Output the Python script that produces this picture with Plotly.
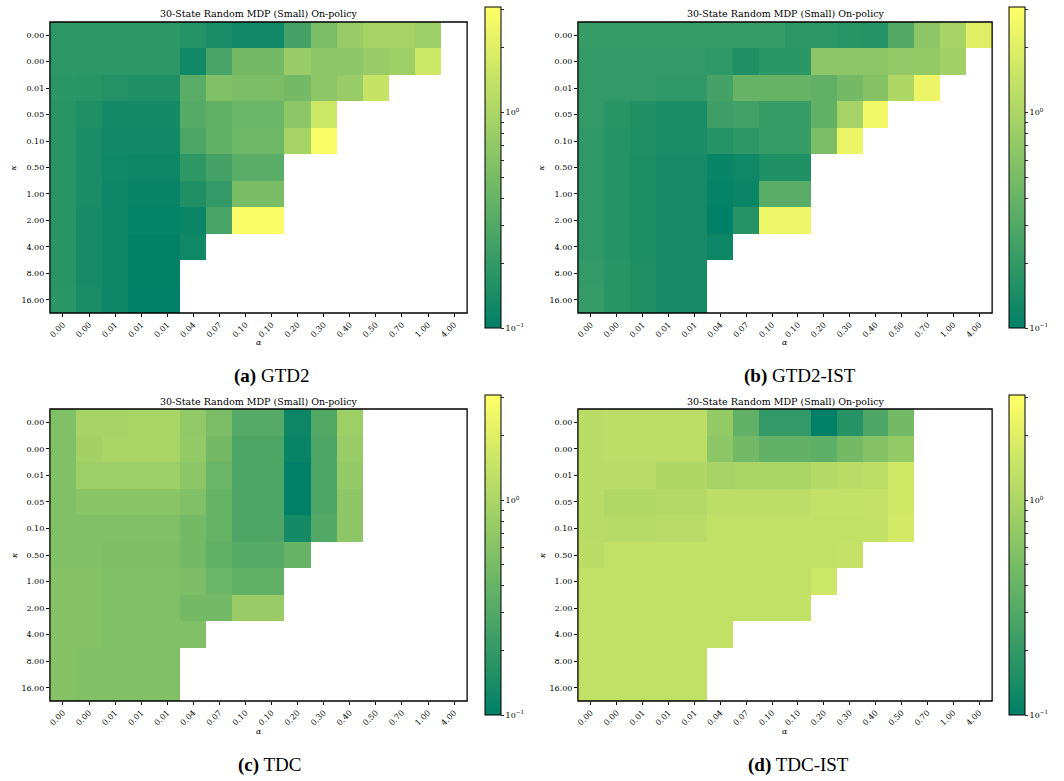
import numpy as np
import plotly.graph_objects as go

N = None

alpha_labels = ["0.00", "0.00", "0.01", "0.01", "0.01", "0.04", "0.07", "0.10",
                "0.10", "0.20", "0.30", "0.40", "0.50", "0.70", "1.00", "4.00"]
kappa_labels = ["0.00", "0.00", "0.01", "0.05", "0.10", "0.50", "1.00", "2.00",
                "4.00", "8.00", "16.00"]

# Error per (kappa row, alpha column); None = run diverged / not reported
gtd2 = [
    [0.186, 0.186, 0.186, 0.186, 0.186, 0.167, 0.141, 0.127, 0.127, 0.253, 0.520, 0.787, 0.935, 0.935, 0.843, N],
    [0.186, 0.186, 0.186, 0.186, 0.186, 0.127, 0.261, 0.469, 0.469, 0.787, 0.662, 0.662, 0.787, 0.843, 1.56, N],
    [0.179, 0.173, 0.162, 0.151, 0.151, 0.333, 0.557, 0.520, 0.520, 0.469, 0.662, 0.787, 1.46, N, N, N],
    [0.173, 0.151, 0.132, 0.132, 0.132, 0.310, 0.368, 0.423, 0.423, 0.662, 1.56, N, N, N, N, N],
    [0.173, 0.141, 0.127, 0.127, 0.127, 0.280, 0.368, 0.438, 0.438, 0.935, 2.89, N, N, N, N, N],
    [0.173, 0.141, 0.123, 0.119, 0.119, 0.186, 0.253, 0.333, 0.333, N, N, N, N, N, N, N],
    [0.173, 0.141, 0.119, 0.111, 0.111, 0.151, 0.199, 0.503, 0.503, N, N, N, N, N, N, N],
    [0.173, 0.136, 0.119, 0.107, 0.107, 0.115, 0.261, 2.89, 2.89, N, N, N, N, N, N, N],
    [0.173, 0.136, 0.119, 0.103, 0.103, 0.123, N, N, N, N, N, N, N, N, N, N],
    [0.173, 0.136, 0.119, 0.103, 0.103, N, N, N, N, N, N, N, N, N, N, N],
    [0.179, 0.141, 0.119, 0.100, 0.100, N, N, N, N, N, N, N, N, N, N, N],
]

gtd2_ist = [
    [0.213, 0.213, 0.213, 0.213, 0.213, 0.213, 0.213, 0.213, 0.186, 0.186, 0.173, 0.167, 0.300, 0.662, 0.935, 1.98],
    [0.199, 0.199, 0.199, 0.199, 0.199, 0.192, 0.151, 0.179, 0.179, 0.662, 0.662, 0.662, 0.709, 0.734, 0.873, N],
    [0.199, 0.199, 0.199, 0.192, 0.192, 0.253, 0.395, 0.395, 0.395, 0.368, 0.469, 0.597, 1.04, 2.35, N, N],
    [0.199, 0.173, 0.156, 0.141, 0.141, 0.228, 0.244, 0.213, 0.213, 0.368, 0.935, 2.61, N, N, N, N],
    [0.192, 0.167, 0.151, 0.141, 0.141, 0.167, 0.186, 0.213, 0.213, 0.520, 2.35, N, N, N, N, N],
    [0.192, 0.167, 0.146, 0.136, 0.136, 0.111, 0.123, 0.151, 0.151, N, N, N, N, N, N, N],
    [0.192, 0.167, 0.146, 0.136, 0.136, 0.107, 0.115, 0.333, 0.333, N, N, N, N, N, N, N],
    [0.192, 0.167, 0.146, 0.136, 0.136, 0.100, 0.167, 2.43, 2.43, N, N, N, N, N, N, N],
    [0.192, 0.167, 0.146, 0.136, 0.136, 0.119, N, N, N, N, N, N, N, N, N, N],
    [0.199, 0.173, 0.151, 0.136, 0.136, N, N, N, N, N, N, N, N, N, N, N],
    [0.206, 0.173, 0.151, 0.136, 0.136, N, N, N, N, N, N, N, N, N, N, N],
]

tdc = [
    [0.557, 0.935, 0.935, 0.968, 0.968, 0.709, 0.520, 0.310, 0.310, 0.119, 0.300, 0.843, N, N, N, N],
    [0.557, 0.903, 0.968, 0.968, 0.968, 0.734, 0.469, 0.280, 0.280, 0.111, 0.280, 0.787, N, N, N, N],
    [0.557, 0.843, 0.843, 0.843, 0.843, 0.662, 0.423, 0.280, 0.280, 0.100, 0.280, 0.734, N, N, N, N],
    [0.557, 0.640, 0.640, 0.640, 0.640, 0.557, 0.395, 0.280, 0.280, 0.100, 0.280, 0.662, N, N, N, N],
    [0.557, 0.557, 0.557, 0.557, 0.557, 0.469, 0.395, 0.280, 0.280, 0.132, 0.300, 0.662, N, N, N, N],
    [0.557, 0.557, 0.538, 0.538, 0.538, 0.469, 0.368, 0.310, 0.310, 0.395, N, N, N, N, N, N],
    [0.597, 0.597, 0.557, 0.557, 0.557, 0.520, 0.423, 0.368, 0.368, N, N, N, N, N, N, N],
    [0.597, 0.597, 0.557, 0.557, 0.557, 0.469, 0.469, 0.787, 0.787, N, N, N, N, N, N, N],
    [0.597, 0.597, 0.557, 0.557, 0.557, 0.557, N, N, N, N, N, N, N, N, N, N],
    [0.597, 0.557, 0.557, 0.557, 0.557, N, N, N, N, N, N, N, N, N, N, N],
    [0.597, 0.557, 0.557, 0.557, 0.557, N, N, N, N, N, N, N, N, N, N, N],
]

tdc_ist = [
    [1.19, 1.27, 1.27, 1.27, 1.27, 0.734, 0.368, 0.199, 0.199, 0.100, 0.167, 0.280, 0.469, N, N, N],
    [1.19, 1.27, 1.27, 1.27, 1.27, 0.662, 0.469, 0.368, 0.368, 0.356, 0.469, 0.597, 0.734, N, N, N],
    [1.19, 1.19, 1.19, 1.04, 1.04, 0.935, 0.968, 0.968, 0.968, 1.11, 1.19, 1.27, 1.67, N, N, N],
    [1.19, 1.07, 1.07, 1.11, 1.11, 1.27, 1.27, 1.27, 1.27, 1.36, 1.36, 1.41, 1.67, N, N, N],
    [1.19, 1.15, 1.15, 1.19, 1.19, 1.32, 1.32, 1.32, 1.32, 1.32, 1.32, 1.36, 1.73, N, N, N],
    [1.23, 1.32, 1.32, 1.32, 1.32, 1.32, 1.32, 1.32, 1.32, 1.32, 1.41, N, N, N, N, N],
    [1.32, 1.32, 1.32, 1.32, 1.32, 1.32, 1.32, 1.32, 1.32, 1.56, N, N, N, N, N, N],
    [1.32, 1.32, 1.32, 1.32, 1.32, 1.32, 1.32, 1.32, 1.32, N, N, N, N, N, N, N],
    [1.32, 1.32, 1.32, 1.32, 1.32, 1.32, N, N, N, N, N, N, N, N, N, N],
    [1.32, 1.32, 1.32, 1.32, 1.32, N, N, N, N, N, N, N, N, N, N, N],
    [1.32, 1.32, 1.32, 1.32, 1.32, N, N, N, N, N, N, N, N, N, N, N],
]

panels = [
    ("a", "GTD2", gtd2),
    ("b", "GTD2-IST", gtd2_ist),
    ("c", "TDC", tdc),
    ("d", "TDC-IST", tdc_ist),
]

W, H = 1064, 781
VMIN, VMAX = 0.1, 3.09
TITLE = "30-State Random MDP (Small) On-policy"
SERIF = "DejaVu Serif"

# matplotlib "summer" colormap
summer = [[0.0, "rgb(0,128,102)"], [1.0, "rgb(255,255,102)"]]

cb_vals = [0.1, 0.2, 0.3, 0.4, 0.5, 0.6, 0.7, 0.8, 0.9, 1.0, 2.0, 3.0]
cb_text = ["10<sup>\u22121</sup>"] + [""] * 8 + ["10<sup>0</sup>", "", ""]


def px_x(x):
    return x / W


def px_y(y):
    return 1 - y / H


# pixel boxes: (plot left, plot right, plot top, plot bottom, colorbar left, colorbar top, colorbar bottom)
boxes = [
    (48, 466, 22, 313, 484, 7, 328),
    (577, 992, 22, 313, 1009, 7, 328),
    (48, 466, 409, 701, 484, 395, 715),
    (577, 992, 409, 701, 1009, 395, 715),
]
caption_x = [270, 800, 269, 798]

fig = go.Figure()
annotations = []
shapes = []

for i, ((tag, name, data), box) in enumerate(zip(panels, boxes)):
    x0, x1, y0, y1, cbx, cbt, cbb = box
    z = np.log10(np.array(data, dtype=float))
    ax = "" if i == 0 else str(i + 1)
    fig.add_trace(go.Heatmap(
        z=z,
        x=list(range(len(alpha_labels))),
        y=list(range(len(kappa_labels))),
        colorscale=summer,
        zmin=np.log10(VMIN), zmax=np.log10(VMAX),
        xaxis="x" + ax, yaxis="y" + ax,
        hoverongaps=False,
        colorbar=dict(
            x=px_x(cbx), xanchor="left",
            y=px_y(cbt), yanchor="top",
            len=(cbb - cbt) / H, lenmode="fraction",
            thickness=16, thicknessmode="pixels",
            xpad=0, ypad=0,
            outlinewidth=1, outlinecolor="black",
            tickmode="array",
            tickvals=list(np.log10(cb_vals)),
            ticktext=cb_text,
            ticks="outside", ticklen=3, tickwidth=1, tickcolor="#333",
            tickfont=dict(family=SERIF, size=8, color="black"),
        ),
    ))
    fig.layout["xaxis" + ax] = dict(
        domain=[px_x(x0), px_x(x1)],
        anchor="y" + ax,
        range=[-0.5, len(alpha_labels) - 0.5],
        tickmode="array",
        tickvals=list(range(len(alpha_labels))),
        ticktext=alpha_labels,
        tickangle=-45,
        ticks="outside", ticklen=3, tickcolor="black",
        tickfont=dict(family=SERIF, size=8, color="black"),
        showline=False,
        showgrid=False, zeroline=False,
    )
    fig.layout["yaxis" + ax] = dict(
        domain=[px_y(y1), px_y(y0)],
        anchor="x" + ax,
        range=[len(kappa_labels) - 0.5, -0.5],
        tickmode="array",
        tickvals=list(range(len(kappa_labels))),
        ticktext=kappa_labels,
        ticks="outside", ticklen=3, tickcolor="black",
        tickfont=dict(family=SERIF, size=8, color="black"),
        showline=False,
        showgrid=False, zeroline=False,
    )
    # axes frame
    shapes.append(dict(
        type="rect", xref="paper", yref="paper",
        x0=px_x(x0), x1=px_x(x1), y0=px_y(y1), y1=px_y(y0),
        line=dict(color="black", width=1.3),
        fillcolor="rgba(0,0,0,0)", layer="above",
    ))
    cx = (x0 + x1) / 2
    annotations.append(dict(
        text=TITLE, x=px_x(cx), y=px_y(y0 - 8), xref="paper", yref="paper",
        showarrow=False, xanchor="center", yanchor="middle",
        font=dict(family=SERIF, size=9.5, color="black"),
    ))
    annotations.append(dict(
        text="<i>\u03b1</i>", x=px_x(cx), y=px_y(y1 + 30), xref="paper", yref="paper",
        showarrow=False, xanchor="center", yanchor="middle",
        font=dict(family=SERIF, size=8, color="black"),
    ))
    annotations.append(dict(
        text="<i>\u03ba</i>", x=px_x(x0 - 36), y=px_y((y0 + y1) / 2), xref="paper", yref="paper",
        showarrow=False, xanchor="center", yanchor="middle", textangle=-90,
        font=dict(family=SERIF, size=8, color="black"),
    ))
    annotations.append(dict(
        text="<b>(" + tag + ")</b> " + name, x=px_x(caption_x[i]), y=px_y(y1 + 63 if i < 2 else y1 + 64),
        xref="paper", yref="paper",
        showarrow=False, xanchor="center", yanchor="middle",
        font=dict(family="Liberation Serif", size=19, color="black"),
    ))

fig.update_layout(
    width=W, height=H, autosize=False,
    margin=dict(l=0, r=0, t=0, b=0),
    paper_bgcolor="white", plot_bgcolor="white",
    annotations=annotations,
    shapes=shapes,
    showlegend=False,
)

fig.write_html("out.html")
